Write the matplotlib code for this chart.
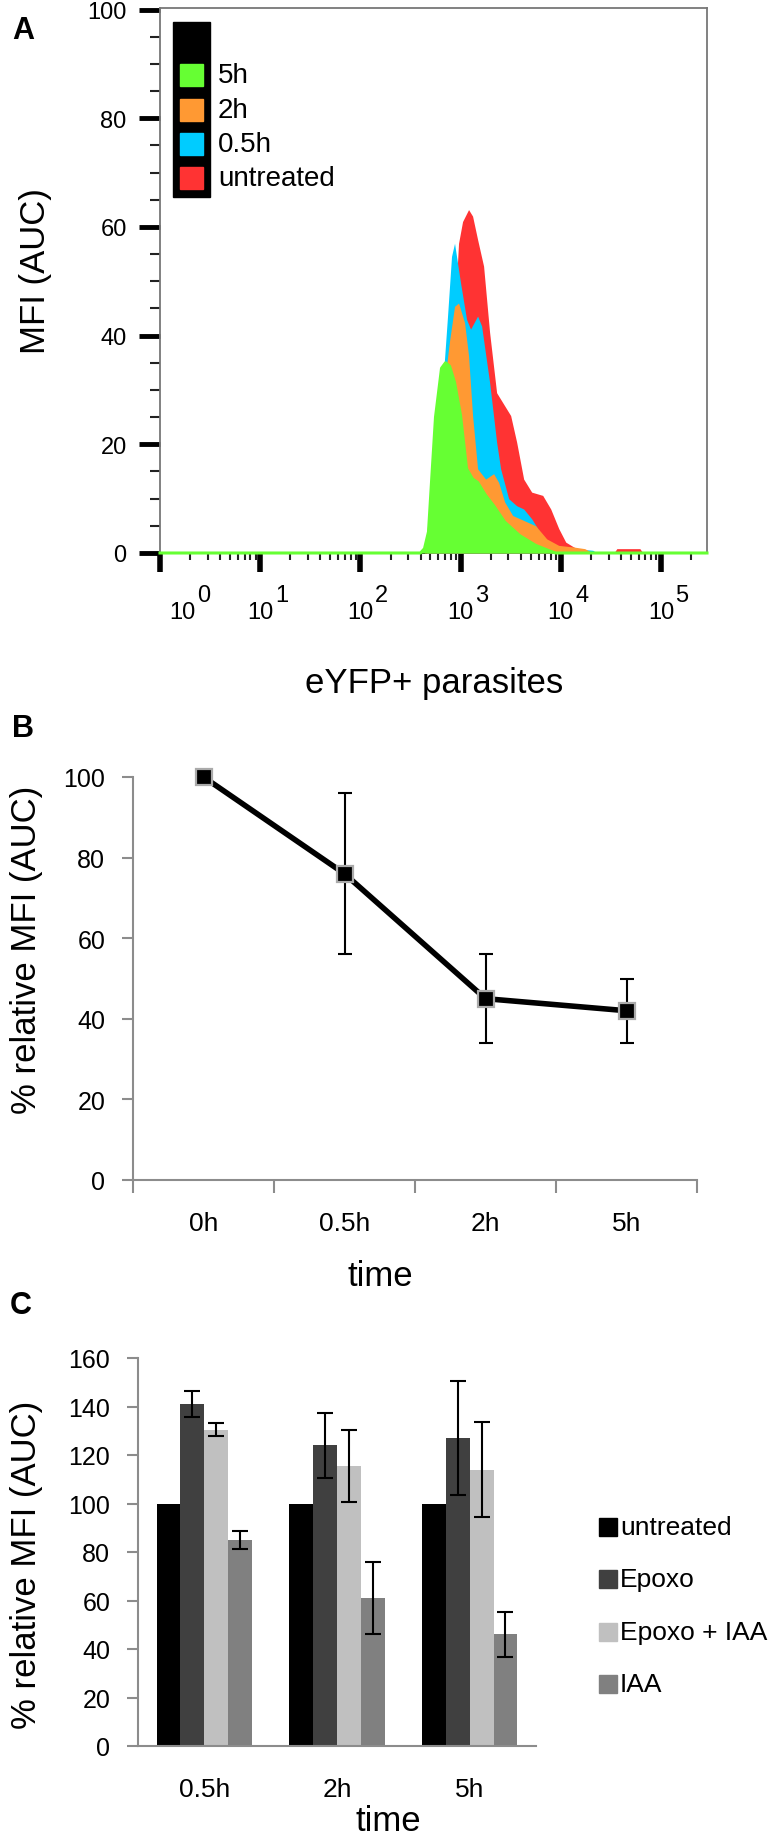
import numpy as np
import matplotlib
matplotlib.use("Agg")
import matplotlib.pyplot as plt
from matplotlib.patches import Rectangle
from matplotlib.ticker import MultipleLocator, FixedLocator, NullFormatter, LogLocator

plt.rcParams['font.family'] = ['Liberation Sans', 'DejaVu Sans']

# ── Panel A: histogram overlays (x given as log10 of intensity) ──────────────
green_logx = [0.0, 2.60, 2.64, 2.68, 2.71, 2.75, 2.81, 2.85, 2.89, 2.94, 3.00, 3.06,
              3.12, 3.17, 3.25, 3.33, 3.44, 3.59, 3.75, 3.90, 3.95, 5.46]
green_y = [0, 0, 0.8, 3.9, 13, 25, 34, 35, 34.4, 31.4, 25.3, 15.5,
           13.6, 13, 10.6, 8.7, 5.7, 3.2, 1.4, 0.3, 0, 0]

orange_logx = [2.64, 2.75, 2.85, 2.89, 2.94, 2.98, 3.04, 3.08, 3.12, 3.17, 3.25, 3.33,
               3.38, 3.44, 3.52, 3.63, 3.75, 3.86, 3.98, 4.13, 4.24, 4.32]
orange_y = [0, 18, 33, 39, 45.4, 46, 42.4, 36.3, 25.3, 15.5, 13.6, 14.6,
            13, 9.4, 6.9, 6, 5, 2.6, 1.4, 1.1, 0.8, 0]

blue_logx = [2.66, 2.78, 2.87, 2.91, 2.94, 3.00, 3.06, 3.10, 3.17, 3.21, 3.29, 3.36,
             3.40, 3.48, 3.56, 3.63, 3.71, 3.79, 3.90, 4.01, 4.13, 4.32, 4.36]
blue_y = [0, 20, 43.6, 54.6, 57, 49.7, 43, 41.2, 43.6, 41.8, 31.4, 20.4,
          15.5, 10, 8.7, 8.1, 6.3, 3.9, 1.4, 0.8, 0.8, 0.5, 0]

red_logx = [2.75, 2.90, 2.98, 3.02, 3.08, 3.12, 3.17, 3.23, 3.29, 3.36, 3.44, 3.50,
            3.56, 3.63, 3.71, 3.82, 3.90, 3.98, 4.05, 4.13, 4.20, 4.28, 4.53, 4.56,
            4.79, 4.82]
red_y = [0, 30, 57, 61, 63.2, 62, 57.7, 52.8, 40.6, 29.5, 27.1, 25.3,
         20.4, 13.6, 11.2, 10.6, 8.1, 4.5, 2, 1.1, 0.5, 0, 0, 0.8,
         0.8, 0]

hist_labels = ['5h', '2h', '0.5h', 'untreated']
hist_colors = ['#66ff33', '#ff9933', '#00ccff', '#ff3333']
decades = [0, 1, 2, 3, 4, 5]

# ── Panel B: time course ─────────────────────────────────────────────────────
b_times = ['0h', '0.5h', '2h', '5h']
b_vals = [100, 76, 45, 42]
b_err = [0, 20, 11, 8]

# ── Panel C: grouped bars ────────────────────────────────────────────────────
c_times = ['0.5h', '2h', '5h']
c_series = ['untreated', 'Epoxo', 'Epoxo + IAA', 'IAA']
c_untreated = [100, 100, 100]
c_epoxo = [141, 124, 127]
c_epoxo_iaa = [130.5, 115.5, 114]
c_iaa = [85, 61, 46]
c_err_epoxo = [5.5, 13.5, 23.5]
c_err_epoxo_iaa = [2.5, 15, 19.5]
c_err_iaa = [3.8, 14.7, 9.3]
c_colors = ['#000000', '#404040', '#c0c0c0', '#808080']

W, H = 781, 1849
fig = plt.figure(figsize=(W / 100, H / 100), dpi=100)


def fx(px):
    return px / W


def fy(py):
    return 1 - py / H


def add_ax(l, t, r, b):
    return fig.add_axes([fx(l), fy(b), fx(r) - fx(l), fy(t) - fy(b)])


# ── A ────────────────────────────────────────────────────────────────────────
axA = add_ax(160, 9, 707, 554)
axA.set_xscale('log')
axA.set_xlim(1, 10 ** 5.46)
axA.set_ylim(0, 100.3)

series = [(red_logx, red_y, hist_colors[3]),
          (blue_logx, blue_y, hist_colors[2]),
          (orange_logx, orange_y, hist_colors[1]),
          (green_logx, green_y, hist_colors[0])]
for i, (lx, yy, col) in enumerate(series):
    xx = 10 ** np.array(lx)
    axA.fill_between(xx, yy, color=col, lw=0, zorder=2 + i)
axA.plot(10 ** np.array(green_logx), green_y, color=hist_colors[0], lw=2.2, zorder=7, clip_on=False)

axA.yaxis.set_major_locator(MultipleLocator(20))
axA.yaxis.set_minor_locator(MultipleLocator(5))
axA.xaxis.set_major_locator(FixedLocator([10 ** d for d in decades]))
axA.xaxis.set_minor_locator(LogLocator(base=10, subs=np.arange(2, 10)))
axA.xaxis.set_major_formatter(NullFormatter())
axA.xaxis.set_minor_formatter(NullFormatter())
axA.tick_params(axis='y', which='major', length=15, width=3.5, color='black',
                labelsize=17, pad=9)
axA.tick_params(axis='y', which='minor', length=7, width=1.5, color='#222222')
axA.tick_params(axis='x', which='major', length=14, width=4, color='black')
axA.tick_params(axis='x', which='minor', length=5, width=1.5, color='#222222')
for s in axA.spines.values():
    s.set_color('#777777')
    s.set_linewidth(1.3)
axA.spines['bottom'].set_color('black')

# "10" with a full-size raised exponent, as in the flow cytometry export
for d in decades:
    dx = 16 if d == 0 else 0
    axA.annotate('10', xy=(10 ** d, 0), xycoords=('data', 'axes fraction'),
                 xytext=(dx, -42.5), textcoords='offset points',
                 ha='center', va='center', fontsize=17, annotation_clip=False)
    axA.annotate(str(d), xy=(10 ** d, 0), xycoords=('data', 'axes fraction'),
                 xytext=(dx + 10.5, -30), textcoords='offset points',
                 ha='left', va='center', fontsize=17, annotation_clip=False)

# legend of panel A
fig.add_artist(Rectangle((fx(173), fy(198)), fx(210) - fx(173), fy(23) - fy(198),
                         transform=fig.transFigure, color='black', zorder=10))
leg_rows = [76, 110.5, 144.5, 179]
for lab, col, yc in zip(hist_labels, hist_colors, leg_rows):
    fig.add_artist(Rectangle((fx(180), fy(yc + 11)), fx(203) - fx(180), fy(yc - 11) - fy(yc + 11),
                             transform=fig.transFigure, color=col, zorder=11))
    fig.text(fx(218), fy(yc), lab, ha='left', va='center', fontsize=20, zorder=11)

fig.text(fx(35), fy(271), 'MFI (AUC)', rotation=90, ha='center', va='center', fontsize=25)
fig.text(fx(434), fy(684), 'eYFP+ parasites', ha='center', va='center', fontsize=25)
fig.text(fx(12), fy(31), 'A', ha='left', va='center', fontsize=22, fontweight='bold')

# ── B ────────────────────────────────────────────────────────────────────────
axB = add_ax(133, 778, 697, 1181)
xb = np.arange(len(b_times))
axB.set_xlim(-0.5, len(b_times) - 0.5)
axB.set_ylim(0, 100)
axB.errorbar(xb[1:], b_vals[1:], yerr=b_err[1:], fmt='none', ecolor='black',
             elinewidth=1.5, capsize=5, capthick=1.5, zorder=3)
axB.plot(xb, b_vals, color='black', lw=4, marker='s', ms=11, mfc='black',
         mec='#aaaaaa', mew=1.6, clip_on=False, zorder=4)
axB.set_yticks(range(0, 101, 20))
axB.set_xticks(xb)
axB.set_xticklabels(b_times)
axB.xaxis.set_minor_locator(FixedLocator(np.arange(-0.5, len(b_times), 1.0)))
for s in ['top', 'right']:
    axB.spines[s].set_visible(False)
for s in ['left', 'bottom']:
    axB.spines[s].set_color('#8c8c8c')
    axB.spines[s].set_linewidth(1.5)
axB.tick_params(axis='y', length=8, width=1.5, color='#8c8c8c', labelsize=18, pad=12)
axB.tick_params(axis='x', which='major', length=0, labelsize=19, pad=22)
axB.tick_params(axis='x', which='minor', length=9, width=1.5, color='#8c8c8c')

fig.text(fx(27), fy(950), '% relative MFI (AUC)', rotation=90, ha='center', va='center', fontsize=25)
fig.text(fx(380), fy(1277), 'time', ha='center', va='center', fontsize=25)
fig.text(fx(12), fy(729), 'B', ha='left', va='center', fontsize=22, fontweight='bold')

# ── C ────────────────────────────────────────────────────────────────────────
axC = add_ax(138, 1359, 536, 1747)
xc = np.arange(len(c_times))
bw = 0.18
c_vals = [c_untreated, c_epoxo, c_epoxo_iaa, c_iaa]
c_errs = [None, c_err_epoxo, c_err_epoxo_iaa, c_err_iaa]
for i, (vals, errs, col) in enumerate(zip(c_vals, c_errs, c_colors)):
    pos = xc + (i - 1.5) * bw
    axC.bar(pos, vals, width=bw, color=col, lw=0, zorder=2)
    if errs is not None:
        axC.errorbar(pos, vals, yerr=errs, fmt='none', ecolor='black',
                     elinewidth=1.5, capsize=6, capthick=1.5, zorder=3)
axC.set_xlim(-0.5, len(c_times) - 0.5)
axC.set_ylim(0, 160)
axC.set_yticks(range(0, 161, 20))
axC.set_xticks(xc)
axC.set_xticklabels(c_times)
for s in ['top', 'right']:
    axC.spines[s].set_visible(False)
for s in ['left', 'bottom']:
    axC.spines[s].set_color('#8c8c8c')
    axC.spines[s].set_linewidth(1.5)
axC.tick_params(axis='y', length=8, width=1.5, color='#8c8c8c', labelsize=18, pad=12)
axC.tick_params(axis='x', length=0, labelsize=19, pad=22)

c_leg_rows = [1528, 1580, 1633, 1685]
for lab, col, yc in zip(c_series, c_colors, c_leg_rows):
    fig.add_artist(Rectangle((fx(599), fy(yc + 9)), fx(617) - fx(599), fy(yc - 9) - fy(yc + 9),
                             transform=fig.transFigure, color=col))
    fig.text(fx(620), fy(yc), lab, ha='left', va='center', fontsize=19)

fig.text(fx(27), fy(1565), '% relative MFI (AUC)', rotation=90, ha='center', va='center', fontsize=25)
fig.text(fx(388), fy(1822), 'time', ha='center', va='center', fontsize=25)
fig.text(fx(10), fy(1306), 'C', ha='left', va='center', fontsize=22, fontweight='bold')

fig.savefig('out.png', dpi=100)
